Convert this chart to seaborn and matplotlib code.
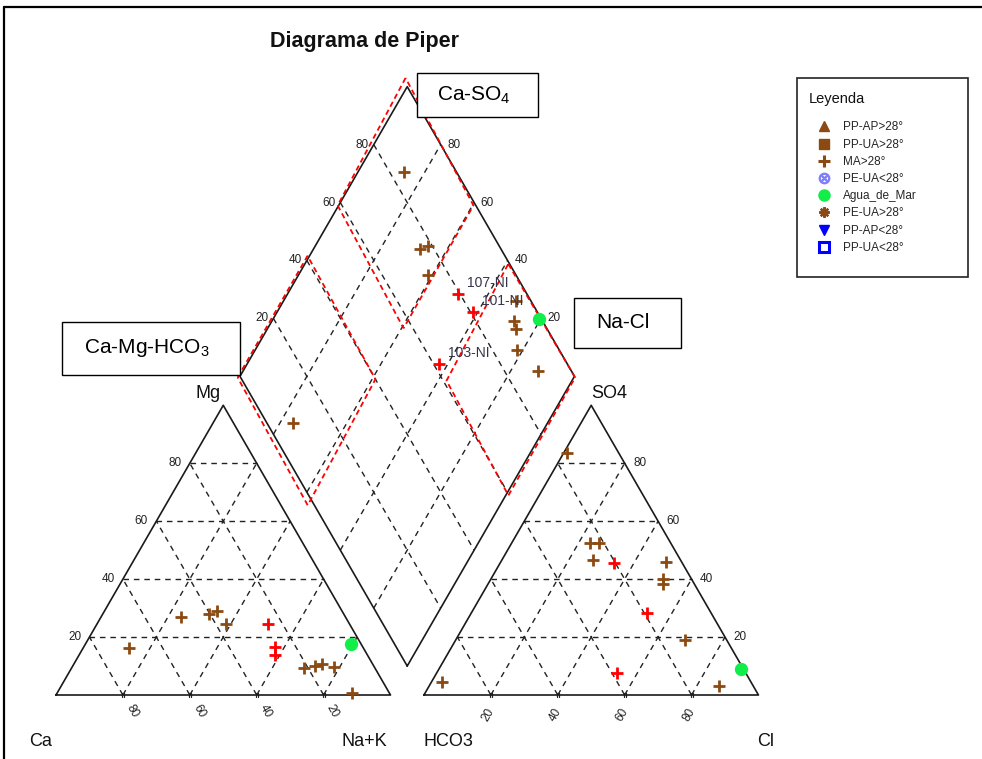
import numpy as np
import pandas as pd
import matplotlib
matplotlib.use("Agg")
import matplotlib.pyplot as plt
import seaborn as sns
from matplotlib.patches import Rectangle, Polygon
from matplotlib.lines import Line2D

# ---------------- data (percent of meq) ----------------
sample_ids = ["M1", "M2", "M3", "M4", "M5", "M6", "M7", "M8", "M9", "M10",
              "107-NI", "101-NI", "103-NI", "Agua_de_Mar"]
groups = ["MA>28°"] * 10 + ["NI"] * 3 + ["Agua_de_Mar"]
ca_pct = [70.1, 40.3, 37.2, 37.0, 21.3, 17.7, 15.0, 12.2, 11.0, 49.3, 24.5, 27.8, 26.1, 3.2]
mg_pct = [16.1, 27.9, 29.1, 24.4, 9.2, 10.0, 10.7, 9.5, 0.8, 26.8, 24.5, 13.7, 16.6, 17.5]
nak_pct = [13.8, 31.8, 33.7, 38.6, 69.5, 72.3, 74.3, 78.3, 88.2, 23.9, 51.0, 58.5, 57.3, 79.3]
hco3_pct = [15.5, 24.2, 21.4, 26.3, 4.6, 8.6, 9.5, 12.5, 10.1, 92.3, 20.6, 19.3, 38.5, 0.8]
so4_pct = [83.5, 52.3, 52.3, 46.5, 45.9, 40.0, 38.3, 19.0, 3.1, 4.6, 45.4, 28.2, 7.7, 8.9]
cl_pct = [1.0, 23.5, 26.3, 27.2, 49.5, 51.4, 52.2, 68.5, 86.8, 3.1, 34.0, 52.5, 53.8, 90.3]
point_labels = [""] * 10 + ["107-NI", "101-NI", "103-NI", ""]

grid_values = [20, 40, 60, 80]
legend_labels = ["PP-AP>28°", "PP-UA>28°", "MA>28°", "PE-UA<28°",
                 "Agua_de_Mar", "PE-UA>28°", "PP-AP<28°", "PP-UA<28°"]
facies_names = ["Ca-SO$_4$", "Na-Cl", "Ca-Mg-HCO$_3$"]

# facies zones drawn as (s, r) fractions of the diamond
zone_top = [(1.02, 1.01), (1.003, 0.587), (0.594, 0.572), (0.597, 0.993)]
zone_left = [(1.005, -0.009), (1.006, 0.41), (0.59, 0.40), (0.575, -0.02)]
zone_right = [(0.392, 0.996), (-0.004, 1.0), (-0.008, 0.597), (0.375, 0.61)]

# ---------------- style ----------------
sns.set_theme(style="white")
plt.rcParams["font.family"] = ["Liberation Sans", "DejaVu Sans"]
plt.rcParams["mathtext.default"] = "regular"

BROWN = "#8B4A12"
GREEN = "#11EE4A"
RED = "#FF0000"
BLUE = "#0000FF"
LBLUE = "#7F7FFF"
GRID = "#222222"
H = np.sqrt(3) / 2

W, Hpx = 982, 759
fig = plt.figure(figsize=(W / 100, Hpx / 100), dpi=100)
ax = fig.add_axes([0, 0, 1, 1])
X0, S, Y0 = 56.0, 3.345, 695.0
ax.set_xlim(-X0 / S, (W - X0) / S)
ax.set_ylim((Y0 - Hpx) / S, Y0 / S)
ax.axis("off")


def fx(px):
    return px / W


def fy(py):
    return 1 - py / Hpx


def dia(p, q):
    return (p + q) / 2.0, (q - p) * H


def dia_sr(s, r):
    return dia(100 * (1 - s), 110 + 100 * r)


# ---------------- compute positions ----------------
df = pd.DataFrame(dict(id=sample_ids, group=groups, ca=ca_pct, mg=mg_pct, nak=nak_pct,
                       hco3=hco3_pct, so4=so4_pct, cl=cl_pct, label=point_labels))
cat = pd.DataFrame(dict(x=df.nak + df.mg / 2, y=df.mg * H, group=df.group))
ani = pd.DataFrame(dict(x=110 + df.cl + df.so4 / 2, y=df.so4 * H, group=df.group))
p = df.nak
q = 110 + df.cl + df.so4
dmd = pd.DataFrame(dict(x=(p + q) / 2, y=(q - p) * H, group=df.group, label=df.label))
pts = pd.concat([cat, ani, dmd[["x", "y", "group"]]], ignore_index=True)

# ---------------- frame ----------------
kw = dict(color="black", lw=1.6, transform=fig.transFigure)
fig.add_artist(Line2D([fx(4), fx(W)], [fy(7), fy(7)], **kw))
fig.add_artist(Line2D([fx(4), fx(4)], [fy(7), fy(Hpx)], **kw))

# ---------------- grids ----------------
gkw = dict(color=GRID, lw=1.0, ls=(0, (4, 3.5)), zorder=1)
for k in grid_values:
    # left triangle
    ax.plot([k / 2, 100 - k / 2], [k * H, k * H], **gkw)
    ax.plot([k, k + (100 - k) / 2], [0, (100 - k) * H], **gkw)
    ax.plot([100 - k, (100 - k) / 2], [0, (100 - k) * H], **gkw)
    # right triangle
    ax.plot([110 + k / 2, 210 - k / 2], [k * H, k * H], **gkw)
    ax.plot([110 + k, 110 + k + (100 - k) / 2], [0, (100 - k) * H], **gkw)
    ax.plot([210 - k, 110 + (100 - k) / 2], [0, (100 - k) * H], **gkw)
    # diamond
    a, b = dia(k, 110), dia(k, 210)
    ax.plot([a[0], b[0]], [a[1], b[1]], **gkw)
    a, b = dia(0, 110 + k), dia(100, 110 + k)
    ax.plot([a[0], b[0]], [a[1], b[1]], **gkw)
    # small double ticks on bases
    for base in (0, 110):
        for dx in (-0.3, 0.3):
            ax.plot([base + k + dx, base + k + dx], [-0.7, 0.7], color=GRID, lw=0.9, zorder=2)

# outlines
okw = dict(color="#1a1a1a", lw=1.2, zorder=2)
ax.plot([0, 100, 50, 0], [0, 0, 100 * H, 0], **okw)
ax.plot([110, 210, 160, 110], [0, 0, 100 * H, 0], **okw)
corners = [dia(100, 110), dia(0, 110), dia(0, 210), dia(100, 210), dia(100, 110)]
ax.plot([c[0] for c in corners], [c[1] for c in corners], **okw)

# facies zones
for zone in (zone_top, zone_left, zone_right):
    xy = [dia_sr(s, r) for s, r in zone]
    ax.add_patch(Polygon(xy, closed=True, fill=False, edgecolor=RED, lw=1.3,
                         ls=(0, (3, 2)), zorder=3))

# ---------------- tick labels ----------------
tkw = dict(fontsize=8.5, color="#222222")
for k in grid_values:
    ax.text(k / 2 - 2.5, k * H, str(k), ha="right", va="center", **tkw)
    ax.text(210 - k / 2 + 2.5, k * H, str(k), ha="left", va="center", **tkw)
    ax.text(100 - k + 2.7, -4.9, str(k), ha="center", va="center", rotation=-60, **tkw)
    ax.text(110 + k - 0.75, -6.0, str(k), ha="center", va="center", rotation=60, **tkw)
    xl, yl = dia(0, 110 + k)
    ax.text(xl - 1.5, yl, str(k), ha="right", va="center", **tkw)
    xr, yr = dia(100 - k, 210)
    ax.text(xr + 2.0, yr, str(k), ha="left", va="center", **tkw)

nkw = dict(fontsize=13, color="#111111", ha="center", va="center")
ax.text((208 - X0) / S, (Y0 - 393) / S, "Mg", **nkw)
ax.text((609 - X0) / S, (Y0 - 393) / S, "SO4", **nkw)
ax.text((41 - X0) / S, (Y0 - 742) / S, "Ca", **nkw)
ax.text((364 - X0) / S, (Y0 - 742) / S, "Na+K", **nkw)
ax.text((448 - X0) / S, (Y0 - 742) / S, "HCO3", **nkw)
ax.text((766 - X0) / S, (Y0 - 742) / S, "Cl", **nkw)

# ---------------- points ----------------
styles = {
    "MA>28°": dict(marker="+", color=BROWN, s=72, linewidth=2.0),
    "NI": dict(marker="+", color=RED, s=72, linewidth=2.0),
    "Agua_de_Mar": dict(marker="o", color=GREEN, s=92, linewidth=0),
}
for g, st in styles.items():
    sub = pts[pts.group == g]
    sns.scatterplot(data=sub, x="x", y="y", ax=ax, legend=False, zorder=6, **st)
ax.set_xlabel("")
ax.set_ylabel("")
ax.set_xlim(-X0 / S, (W - X0) / S)
ax.set_ylim((Y0 - Hpx) / S, Y0 / S)

for _, row in dmd.iterrows():
    if row.label:
        ax.annotate(row.label, (row.x, row.y), xytext=(6.5, 7.9), textcoords="offset points",
                    ha="left", va="center", fontsize=10, color="#35354a", zorder=7)

# ---------------- title ----------------
fig.text(fx(365), fy(41), "Diagrama de Piper", ha="center", va="center",
         fontsize=15.5, fontweight="bold", color="#111111")

# ---------------- facies label boxes ----------------
boxes = [(417, 73, 538, 117, 437), (574, 298, 681, 348, 596), (62, 322, 240, 375, 84)]
for name, (x1, y1, x2, y2, tx) in zip(facies_names, boxes):
    fig.add_artist(Rectangle((fx(x1), fy(y2)), fx(x2) - fx(x1), fy(y1) - fy(y2),
                             transform=fig.transFigure, facecolor="white",
                             edgecolor="black", lw=1.0, zorder=8))
    fig.text(fx(tx), fy((y1 + y2) / 2), name, ha="left", va="center", fontsize=15,
             color="black", zorder=9)

# ---------------- legend ----------------
fig.add_artist(Rectangle((fx(797), fy(277)), fx(968) - fx(797), fy(78) - fy(277),
                         transform=fig.transFigure, facecolor="white",
                         edgecolor="#222222", lw=1.2, zorder=8))
fig.text(fx(809), fy(99), "Leyenda", ha="left", va="center", fontsize=10.5,
         color="#111111", zorder=9)
handles = [
    Line2D([], [], ls="None", marker="^", color=BROWN, markersize=7.5),
    Line2D([], [], ls="None", marker="s", color=BROWN, markersize=7),
    Line2D([], [], ls="None", marker="+", color=BROWN, markersize=8.5, markeredgewidth=2.2),
    Line2D([], [], ls="None", marker=r"$\otimes$", color=LBLUE, markersize=7.5),
    Line2D([], [], ls="None", marker="o", color=GREEN, markersize=8),
    Line2D([], [], ls="None", marker=(8, 2, 0), color=BROWN, markersize=7.5, markeredgewidth=1.6),
    Line2D([], [], ls="None", marker="v", color=BLUE, markersize=7.5),
    Line2D([], [], ls="None", marker="s", markerfacecolor="white", markeredgecolor=BLUE,
           markersize=6.5, markeredgewidth=2.2),
]
fs = 8.5
fs_px = fs * 100 / 72
hl = 1.2
leg = fig.legend(handles, legend_labels, loc="upper left",
                 bbox_to_anchor=(fx(824 - hl * fs_px / 2), fy(121.5)),
                 bbox_transform=fig.transFigure, frameon=False, fontsize=fs,
                 borderpad=0, borderaxespad=0, handlelength=hl, handletextpad=1.0,
                 labelspacing=0.44, handleheight=0.7)
leg.set_zorder(10)

fig.savefig("out.png", dpi=100)
